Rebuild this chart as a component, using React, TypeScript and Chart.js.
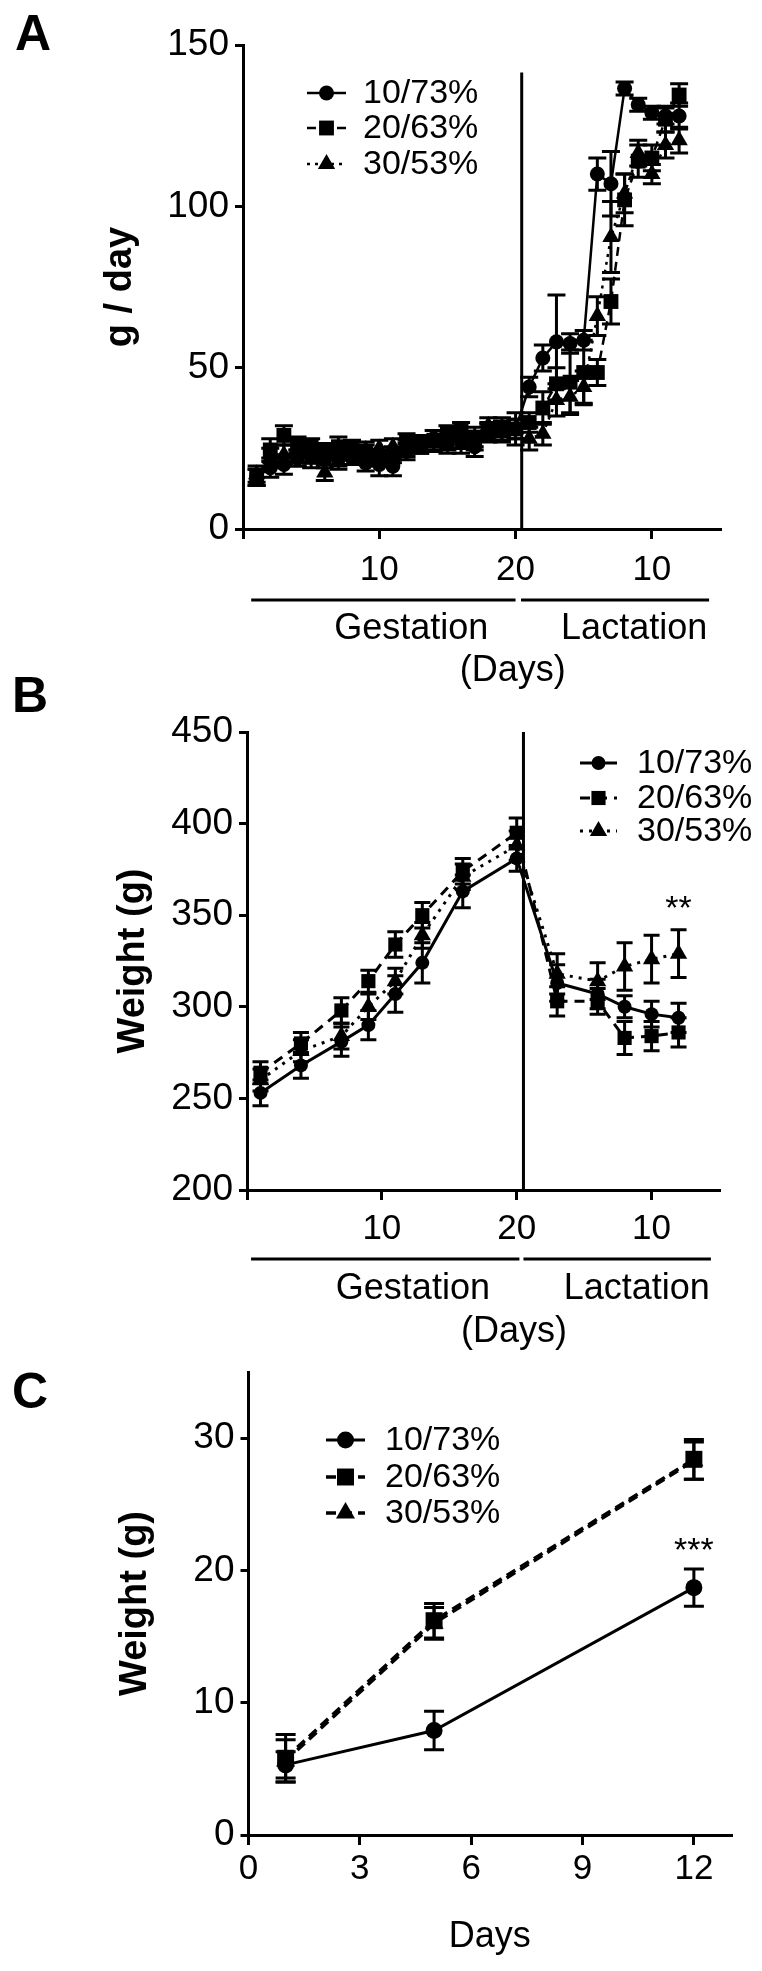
import React, { useEffect, useRef } from 'react';
import { Chart, registerables } from 'chart.js';

Chart.register(...registerables);

const FONT = '"Liberation Sans", Arial, Helvetica, sans-serif';
const W = 762;

const SERIES_NAMES = ['10/73%', '20/63%', '30/53%'];

// lactation day d is plotted at axis position LACT_START + d
const LACT_START = 20;

// ---------------- Panel A : food intake (g / day) ----------------
const A_GEST_DAYS = [1, 2, 3, 4, 5, 6, 7, 8, 9, 10, 11, 12, 13, 14, 15, 16, 17, 18, 19, 20];
const A_LACT_DAYS = [1, 2, 3, 4, 5, 6, 7, 8, 9, 10, 11, 12];

const A_10_GEST = [16, 19, 20, 22, 23, 21.5, 22, 22, 20.5, 20, 19.5, 24, 26, 28, 27, 27.5, 25.5, 30, 30.5, 31];
const A_10_GEST_ERR = [2.5, 3, 3, 2.5, 2.5, 2.5, 2.5, 2, 2.5, 3.5, 3, 2.5, 2.5, 2.5, 2.5, 2.5, 3, 2.5, 3, 5];
const A_10_LACT = [44, 53, 58, 57.5, 58.5, 110, 107, 136.5, 131.5, 129, 128, 128];
const A_10_LACT_ERR = [3, 4, 14.5, 3, 3, 5, 10, 2, 2, 2, 2.5, 4];

const A_20_GEST = [16, 24.5, 29, 26, 25.5, 24, 25.5, 25, 23.5, 22, 23, 27, 26.5, 27.5, 29.5, 30.5, 28.5, 30, 31.5, 31];
const A_20_GEST_ERR = [2.5, 3.5, 3, 2.5, 2.5, 2.5, 3, 2.5, 2.5, 2.5, 2.5, 2.5, 2.5, 3, 2.5, 2.5, 3, 3, 3, 3];
const A_20_LACT = [33, 37.5, 45, 45.5, 48.5, 48.5, 70.5, 102, 114, 115, 127, 134.5];
const A_20_LACT_ERR = [3, 5, 5, 10, 10, 4, 7, 8, 5, 4, 4, 3.5];

const A_30_GEST = [17, 22, 23, 22, 21.5, 17.5, 21, 22.5, 24.5, 25, 25.5, 25, 26, 26.5, 26, 26, 27, 32, 30, 31];
const A_30_GEST_ERR = [2.5, 3, 3, 2.5, 2.5, 2.5, 2.5, 2.5, 2.5, 2.5, 2.5, 2.5, 2.5, 2.5, 2.5, 2.5, 2.5, 2.5, 3, 3];
const A_30_LACT = [28, 29.5, 40, 41, 44, 66, 90.5, 104, 116.5, 110, 119, 120.5];
const A_30_LACT_ERR = [3.5, 3.5, 5, 5, 5, 6, 11, 6, 4, 3, 4, 4];

const A_X_TICKS = [0, 10, 20, 30];
const A_X_TICK_LABELS = ['', '10', '20', '10'];
const A_Y_TICKS = [0, 50, 100, 150];

// ---------------- Panel B : body weight of dams ----------------
const B_GEST_DAYS = [1, 4, 7, 9, 11, 13, 16, 20];
const B_LACT_DAYS = [3, 6, 8, 10, 12];

const B_10_GEST = [253, 268, 281, 290, 307, 324, 363, 381];
const B_10_GEST_ERR = [7, 7, 8, 8, 10, 11, 9, 7];
const B_10_LACT = [313, 307, 300, 296, 294];
const B_10_LACT_ERR = [10, 8, 6, 7, 8];

const B_20_GEST = [264, 280, 298, 314, 334, 350, 374, 395];
const B_20_GEST_ERR = [6, 6, 7, 6, 7, 7, 7, 8];
const B_20_LACT = [303, 303, 283, 284, 286];
const B_20_LACT_ERR = [8, 7, 9, 8, 8];

const B_30_GEST = [260, 276, 284, 300, 314, 339, 371, 388];
const B_30_GEST_ERR = [6, 6, 7, 7, 7, 7, 7, 8];
const B_30_LACT = [318, 314, 322, 326, 329];
const B_30_LACT_ERR = [11, 10, 13, 13, 13];

const B_X_TICKS = [0, 10, 20, 30];
const B_X_TICK_LABELS = ['', '10', '20', '10'];
const B_Y_TICKS = [200, 250, 300, 350, 400, 450];

// ---------------- Panel C : pup weight ----------------
const C_DAYS = [1, 5, 12];
const C_10 = [5.3, 7.9, 18.7];
const C_10_ERR = [1.0, 1.45, 1.4];
const C_20 = [5.8, 16.2, 28.4];
const C_20_ERR = [1.8, 1.3, 1.5];
const C_30 = [5.6, 16.0, 28.3];
const C_30_ERR = [1.6, 1.2, 1.4];

const C_X_TICKS = [0, 3, 6, 9, 12];
const C_X_TICK_LABELS = ['0', '3', '6', '9', '12'];
const C_Y_TICKS = [0, 10, 20, 30];

const lact = (days: number[]) => days.map((d) => LACT_START + d);

// ---------------- drawing helpers ----------------
function drawMarker(ctx: CanvasRenderingContext2D, style: string, x: number, y: number, r: number) {
  ctx.beginPath();
  if (style === 'circle') {
    ctx.arc(x, y, r, 0, Math.PI * 2);
  } else if (style === 'rect') {
    const s = r * Math.SQRT1_2;
    ctx.rect(x - s, y - s, 2 * s, 2 * s);
  } else {
    let a = 0;
    ctx.moveTo(x + Math.sin(a) * r, y - Math.cos(a) * r);
    a += (2 * Math.PI) / 3;
    ctx.lineTo(x + Math.sin(a) * r, y - Math.cos(a) * r);
    a += (2 * Math.PI) / 3;
    ctx.lineTo(x + Math.sin(a) * r, y - Math.cos(a) * r);
    ctx.closePath();
  }
  ctx.fill();
}

const decorPlugin = {
  id: 'panelDecor',
  beforeDatasetsDraw(chart: any, _args: any, opts: any) {
    const ctx: CanvasRenderingContext2D = chart.ctx;
    const xs = chart.scales.x;
    const ys = chart.scales.y;
    ctx.save();
    ctx.strokeStyle = '#000';
    ctx.lineWidth = 3;
    ctx.setLineDash([]);
    // vertical divider between gestation and lactation
    if (opts.divider) {
      const px = xs.getPixelForValue(opts.divider.x);
      ctx.beginPath();
      ctx.moveTo(px, ys.getPixelForValue(opts.divider.from));
      ctx.lineTo(px, ys.getPixelForValue(opts.divider.to));
      ctx.stroke();
    }
    // error bars
    chart.data.datasets.forEach((ds: any, i: number) => {
      const meta = chart.getDatasetMeta(i);
      meta.data.forEach((pt: any, j: number) => {
        const v = ds.data[j].y;
        const e = ds.errors[j];
        const yT = ys.getPixelForValue(v + e);
        const yB = ys.getPixelForValue(v - e);
        const c = opts.cap;
        ctx.lineWidth = opts.errWidth;
        ctx.beginPath();
        ctx.moveTo(pt.x, yT);
        ctx.lineTo(pt.x, yB);
        ctx.moveTo(pt.x - c, yT);
        ctx.lineTo(pt.x + c, yT);
        ctx.moveTo(pt.x - c, yB);
        ctx.lineTo(pt.x + c, yB);
        ctx.stroke();
      });
    });
    ctx.restore();
  },
  afterDraw(chart: any, _args: any, opts: any) {
    const ctx: CanvasRenderingContext2D = chart.ctx;
    const xs = chart.scales.x;
    const ys = chart.scales.y;
    ctx.save();
    ctx.fillStyle = '#000';
    ctx.strokeStyle = '#000';
    // panel letter
    ctx.font = `bold 50px ${FONT}`;
    ctx.textAlign = 'left';
    ctx.textBaseline = 'alphabetic';
    ctx.fillText(opts.letter.text, opts.letter.x, opts.letter.y);
    // legend
    const lg = opts.legend;
    ctx.font = `${lg.size}px ${FONT}`;
    ctx.textBaseline = 'middle';
    chart.data.datasets.forEach((ds: any, i: number) => {
      const y = lg.ys[i];
      ctx.lineWidth = ds.borderWidth;
      ctx.setLineDash(ds.borderDash || []);
      ctx.beginPath();
      ctx.moveTo(lg.x0, y);
      ctx.lineTo(lg.x1, y);
      ctx.stroke();
      ctx.setLineDash([]);
      drawMarker(ctx, ds.pointStyle, (lg.x0 + lg.x1) / 2, y, ds.pointRadius);
      ctx.fillText(ds.label, lg.xText, y + 1);
    });
    // period brackets under the x axis
    if (opts.brackets) {
      ctx.lineWidth = 3;
      ctx.setLineDash([]);
      opts.brackets.forEach((b: any) => {
        ctx.beginPath();
        ctx.moveTo(xs.getPixelForValue(b.from), opts.bracketY);
        ctx.lineTo(xs.getPixelForValue(b.to), opts.bracketY);
        ctx.stroke();
      });
    }
    // text labels (x in data units, y in pixels)
    (opts.labels || []).forEach((l: any) => {
      ctx.font = `${l.size}px ${FONT}`;
      ctx.textAlign = 'center';
      ctx.textBaseline = 'middle';
      ctx.fillText(l.text, xs.getPixelForValue(l.x), l.y);
    });
    // significance marks (data coordinates)
    (opts.notes || []).forEach((n: any) => {
      ctx.font = `${n.size}px ${FONT}`;
      ctx.textAlign = 'center';
      ctx.textBaseline = 'middle';
      ctx.fillText(n.text, xs.getPixelForValue(n.x), ys.getPixelForValue(n.y));
    });
    ctx.restore();
  },
};

type Series = { x: number[]; y: number[]; err: number[]; style: string; r: number; dash: number[]; lw: number };

type Spec = {
  top: number;
  height: number;
  area: { left: number; right: number; top: number; bottom: number };
  xMin: number; xMax: number; xTicks: number[]; xTickLabels: string[]; xTickPad: number;
  yMin: number; yMax: number; yTicks: number[]; yTitle: string; yTitlePad: number;
  xTitle?: string; xTitlePad?: number;
  series: Series[];
  decor: any;
};

const PANELS: Spec[] = [
  {
    top: 0,
    height: 700,
    area: { left: 243, right: 720, top: 45, bottom: 529 },
    xMin: 0, xMax: 35, xTicks: A_X_TICKS, xTickLabels: A_X_TICK_LABELS, xTickPad: 10,
    yMin: 0, yMax: 150, yTicks: A_Y_TICKS, yTitle: 'g / day', yTitlePad: 98,
    series: [
      { x: [...A_GEST_DAYS, ...lact(A_LACT_DAYS)], y: [...A_10_GEST, ...A_10_LACT], err: [...A_10_GEST_ERR, ...A_10_LACT_ERR], style: 'circle', r: 7.5, dash: [], lw: 2.5 },
      { x: [...A_GEST_DAYS, ...lact(A_LACT_DAYS)], y: [...A_20_GEST, ...A_20_LACT], err: [...A_20_GEST_ERR, ...A_20_LACT_ERR], style: 'rect', r: 10.5, dash: [9, 6], lw: 2.5 },
      { x: [...A_GEST_DAYS, ...lact(A_LACT_DAYS)], y: [...A_30_GEST, ...A_30_LACT], err: [...A_30_GEST_ERR, ...A_30_LACT_ERR], style: 'triangle', r: 10, dash: [3, 5], lw: 2.5 },
    ],
    decor: {
      letter: { text: 'A', x: 15, y: 50 },
      legend: { x0: 307, x1: 346, xText: 363, ys: [93, 128, 164], size: 34 },
      divider: { x: 20.45, from: 141.5, to: 0 },
      brackets: [{ from: 0.6, to: 20.0 }, { from: 20.4, to: 34.2 }],
      bracketY: 600,
      labels: [
        { text: 'Gestation', x: 12.35, y: 629, size: 36 },
        { text: 'Lactation', x: 28.7, y: 629, size: 36 },
        { text: '(Days)', x: 19.8, y: 671, size: 36 },
      ],
      cap: 9,
      errWidth: 3,
    },
  },
  {
    top: 660,
    height: 700,
    area: { left: 247, right: 719, top: 72, bottom: 530 },
    xMin: 0, xMax: 35, xTicks: B_X_TICKS, xTickLabels: B_X_TICK_LABELS, xTickPad: 8,
    yMin: 200, yMax: 450, yTicks: B_Y_TICKS, yTitle: 'Weight (g)', yTitlePad: 111,
    series: [
      { x: [...B_GEST_DAYS, ...lact(B_LACT_DAYS)], y: [...B_10_GEST, ...B_10_LACT], err: [...B_10_GEST_ERR, ...B_10_LACT_ERR], style: 'circle', r: 7, dash: [], lw: 3 },
      { x: [...B_GEST_DAYS, ...lact(B_LACT_DAYS)], y: [...B_20_GEST, ...B_20_LACT], err: [...B_20_GEST_ERR, ...B_20_LACT_ERR], style: 'rect', r: 10, dash: [10, 7], lw: 3 },
      { x: [...B_GEST_DAYS, ...lact(B_LACT_DAYS)], y: [...B_30_GEST, ...B_30_LACT], err: [...B_30_GEST_ERR, ...B_30_LACT_ERR], style: 'triangle', r: 10, dash: [3, 6], lw: 3 },
    ],
    decor: {
      letter: { text: 'B', x: 12, y: 52 },
      legend: { x0: 580, x1: 617, xText: 637, ys: [103, 138, 171], size: 34 },
      divider: { x: 20.5, from: 450, to: 200 },
      brackets: [{ from: 0.3, to: 20.2 }, { from: 20.5, to: 34.4 }],
      bracketY: 599,
      labels: [
        { text: 'Gestation', x: 12.3, y: 629, size: 36 },
        { text: 'Lactation', x: 28.9, y: 629, size: 36 },
        { text: '(Days)', x: 19.8, y: 672, size: 36 },
      ],
      notes: [{ text: '**', x: 32, y: 353, size: 34 }],
      cap: 8,
      errWidth: 3,
    },
  },
  {
    top: 1320,
    height: 651,
    area: { left: 248.5, right: 731, top: 52, bottom: 515 },
    xMin: 0, xMax: 13, xTicks: C_X_TICKS, xTickLabels: C_X_TICK_LABELS, xTickPad: 3,
    yMin: 0, yMax: 35, yTicks: C_Y_TICKS, yTitle: 'Weight (g)', yTitlePad: 113,
    xTitle: 'Days', xTitlePad: 12,
    series: [
      { x: C_DAYS, y: C_10, err: C_10_ERR, style: 'circle', r: 8.5, dash: [], lw: 3 },
      { x: C_DAYS, y: C_20, err: C_20_ERR, style: 'rect', r: 12, dash: [10, 6], lw: 3.5 },
      { x: C_DAYS, y: C_30, err: C_30_ERR, style: 'triangle', r: 11, dash: [10, 6], lw: 3.5 },
    ],
    decor: {
      letter: { text: 'C', x: 12, y: 88 },
      legend: { x0: 326, x1: 365, xText: 385, ys: [120, 157, 193], size: 34 },
      notes: [{ text: '***', x: 12, y: 21.4, size: 34 }],
      cap: 10,
      errWidth: 3,
    },
  },
];

function buildConfig(spec: Spec): any {
  const a = spec.area;
  return {
    type: 'line',
    data: {
      datasets: spec.series.map((s, i) => ({
        label: SERIES_NAMES[i],
        data: s.x.map((x, j) => ({ x, y: s.y[j] })),
        errors: s.err,
        borderColor: '#000',
        backgroundColor: '#000',
        borderWidth: s.lw,
        borderDash: s.dash,
        pointStyle: s.style,
        pointRadius: s.r,
        pointBorderWidth: 0,
        pointBackgroundColor: '#000',
        pointBorderColor: '#000',
        tension: 0,
        fill: false,
        clip: false,
      })),
    },
    options: {
      responsive: false,
      animation: false,
      devicePixelRatio: 1,
      events: [],
      layout: { padding: { left: 0, top: a.top, right: W - a.right, bottom: 0 } },
      plugins: {
        legend: { display: false },
        tooltip: { enabled: false },
        panelDecor: spec.decor,
      },
      scales: {
        x: {
          type: 'linear',
          min: spec.xMin,
          max: spec.xMax,
          afterFit: (s: any) => {
            s.height = spec.height - a.bottom;
          },
          afterBuildTicks: (s: any) => {
            s.ticks = spec.xTicks.map((v) => ({ value: v }));
          },
          ticks: {
            callback: (_v: any, i: number) => spec.xTickLabels[i],
            font: { family: FONT, size: 35 },
            color: '#000',
            padding: spec.xTickPad,
            autoSkip: false,
            maxRotation: 0,
            minRotation: 0,
          },
          grid: { display: true, drawOnChartArea: false, drawTicks: true, tickLength: 10, lineWidth: 3, color: '#000' },
          border: { display: true, width: 3, color: '#000' },
          title: spec.xTitle
            ? { display: true, text: spec.xTitle, color: '#000', font: { family: FONT, size: 36 }, padding: { top: 0, bottom: spec.xTitlePad } }
            : { display: false },
        },
        y: {
          type: 'linear',
          min: spec.yMin,
          max: spec.yMax,
          afterFit: (s: any) => {
            s.width = a.left;
          },
          afterBuildTicks: (s: any) => {
            s.ticks = spec.yTicks.map((v) => ({ value: v }));
          },
          ticks: {
            callback: (v: any) => String(v),
            font: { family: FONT, size: 37 },
            color: '#000',
            padding: 6,
            autoSkip: false,
          },
          grid: { display: true, drawOnChartArea: false, drawTicks: true, tickLength: 8, lineWidth: 3, color: '#000' },
          border: { display: true, width: 3, color: '#000' },
          title: {
            display: true,
            text: spec.yTitle,
            color: '#000',
            font: { family: FONT, size: 38, weight: 'bold' },
            padding: { top: spec.yTitlePad, bottom: 0 },
          },
        },
      },
    },
    plugins: [decorPlugin],
  };
}

function Panel({ spec }: { spec: Spec }) {
  const ref = useRef<HTMLCanvasElement>(null);
  useEffect(() => {
    const chart = new Chart(ref.current as HTMLCanvasElement, buildConfig(spec));
    return () => chart.destroy();
  }, [spec]);
  return (
    <canvas
      ref={ref}
      width={W}
      height={spec.height}
      style={{ position: 'absolute', left: 0, top: spec.top, width: W, height: spec.height }}
    />
  );
}

export default function App() {
  return (
    <div style={{ position: 'absolute', left: 0, top: 0, width: W, height: 1971, background: '#fff' }}>
      {PANELS.map((p, i) => (
        <Panel key={i} spec={p} />
      ))}
    </div>
  );
}
